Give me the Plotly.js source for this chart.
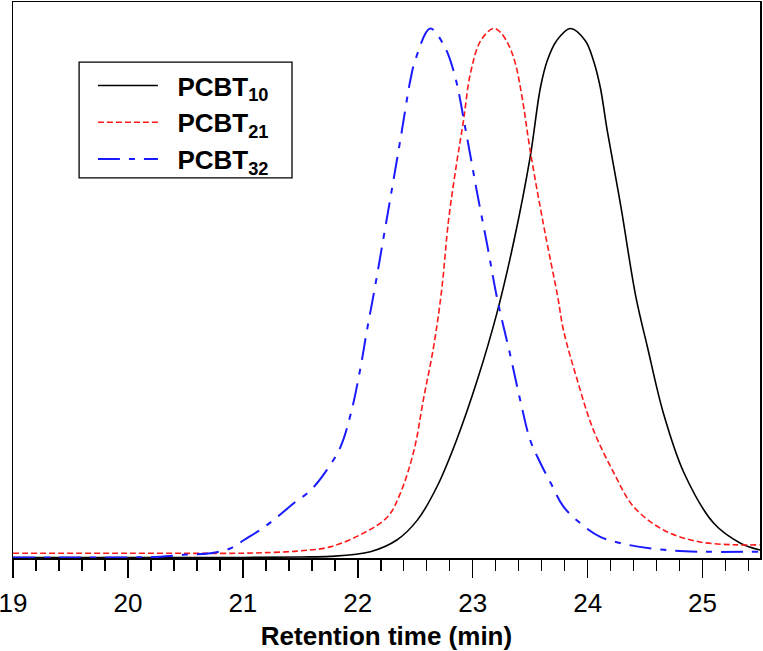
<!DOCTYPE html>
<html>
<head>
<meta charset="utf-8">
<script src="https://cdn.plot.ly/plotly-3.0.1.min.js"></script>
<style>html,body{margin:0;padding:0;background:#fff;}#chart{width:763px;height:651px;}</style>
</head>
<body>
<div id="chart"></div>
<script>
// Retention time (min) and normalized detector response
const seriesNames = ["\u00a0\u00a0<b>PCBT<sub>10</sub></b>", "\u00a0\u00a0<b>PCBT<sub>21</sub></b>", "\u00a0\u00a0<b>PCBT<sub>32</sub></b>"];

const x10 = [19, 20, 21, 21.5, 21.76, 22.11, 22.34, 22.52, 22.69, 22.86, 23.04, 23.21, 23.36, 23.50, 23.59, 23.65, 23.73, 23.85, 23.98, 24.05, 24.11, 24.17, 24.29, 24.42, 24.52, 24.66, 24.84, 25.10, 25.33, 25.5];
const y10 = [0.001, 0.001, 0.001, 0.002, 0.003, 0.012, 0.034, 0.072, 0.135, 0.223, 0.336, 0.462, 0.600, 0.757, 0.889, 0.940, 0.977, 1.0, 0.977, 0.940, 0.889, 0.808, 0.663, 0.493, 0.399, 0.273, 0.160, 0.065, 0.028, 0.015];

const x21 = [19, 20, 21, 21.18, 21.47, 21.76, 22.05, 22.26, 22.37, 22.49, 22.57, 22.66, 22.73, 22.79, 22.86, 22.92, 22.98, 23.07, 23.18, 23.24, 23.31, 23.37, 23.43, 23.50, 23.62, 23.74, 23.79, 23.91, 24.05, 24.23, 24.40, 24.66, 24.96, 25.27, 25.5];
const y21 = [0.009, 0.009, 0.009, 0.010, 0.013, 0.021, 0.047, 0.078, 0.122, 0.204, 0.298, 0.399, 0.506, 0.638, 0.745, 0.826, 0.915, 0.977, 1.0, 0.993, 0.970, 0.935, 0.870, 0.770, 0.625, 0.493, 0.430, 0.336, 0.242, 0.160, 0.097, 0.053, 0.031, 0.025, 0.025];

const x32 = [19, 19.5, 20, 20.28, 20.48, 20.72, 20.89, 21.01, 21.15, 21.27, 21.44, 21.59, 21.73, 21.85, 21.94, 22.02, 22.08, 22.15, 22.21, 22.28, 22.37, 22.46, 22.50, 22.63, 22.75, 22.84, 22.95, 23.04, 23.13, 23.21, 23.33, 23.42, 23.50, 23.59, 23.68, 23.79, 23.94, 24.11, 24.35, 24.64, 24.96, 25.5];
const y32 = [0.001, 0.001, 0.001, 0.0025, 0.006, 0.009, 0.018, 0.034, 0.053, 0.072, 0.103, 0.128, 0.166, 0.210, 0.273, 0.355, 0.430, 0.512, 0.587, 0.675, 0.789, 0.905, 0.940, 1.0, 0.968, 0.915, 0.795, 0.688, 0.587, 0.493, 0.380, 0.292, 0.223, 0.179, 0.141, 0.097, 0.065, 0.040, 0.025, 0.016, 0.012, 0.012];

const xTickVals = [19, 20, 21, 22, 23, 24, 25];
const xTickText = ["19", "20", "21", "22", "23", "24", "25"];

const font = "Liberation Sans, Arial, Helvetica, sans-serif";

const traces = [
  {x: x10, y: y10, name: seriesNames[0], mode: "lines",
   line: {color: "#000000", width: 1.6, shape: "spline", smoothing: 1}},
  {x: x21, y: y21, name: seriesNames[1], mode: "lines",
   line: {color: "#ff1a1a", width: 1.6, dash: "6px,3px", shape: "spline", smoothing: 1}},
  {x: x32, y: y32, name: seriesNames[2], mode: "lines",
   line: {color: "#1a1aff", width: 2, dash: "22px,9px,6px,9px", shape: "spline", smoothing: 1}}
];

const layout = {
  width: 763, height: 651,
  margin: {l: 13, r: 3, t: 2, b: 93},
  paper_bgcolor: "#ffffff", plot_bgcolor: "#ffffff",
  font: {family: font, color: "#000"},
  showlegend: true,
  legend: {
    x: 0.107, y: 0.892, xanchor: "left", yanchor: "top",
    bgcolor: "rgba(0,0,0,0)", borderwidth: 0,
    font: {family: font, size: 26, color: "#000"},
    itemwidth: 60, tracegroupgap: 0
  },
  shapes: [
    {type: "rect", xref: "paper", yref: "paper", x0: 0.0885, x1: 0.3735, y0: 0.6835, y1: 0.892,
     line: {color: "#000", width: 1.3}, fillcolor: "#ffffff", layer: "above"}
  ],
  xaxis: {
    range: [19, 25.5], autorange: false,
    tickmode: "array", tickvals: xTickVals, ticktext: xTickText,
    ticks: "outside", ticklen: 18, tickwidth: 1.5, tickcolor: "#000",
    minor: {dtick: 0.2, tick0: 19, ticks: "outside", ticklen: 11, tickwidth: 1.5, tickcolor: "#000", showgrid: false},
    showline: true, linecolor: "#000", linewidth: 1.5, mirror: true,
    showgrid: false, zeroline: false,
    ticklabeloverflow: "allow", ticklabelstandoff: 3,
    tickfont: {family: font, size: 26, color: "#000"},
    title: {text: "<b>Retention time (min)</b>", font: {family: font, size: 26, color: "#000"}, standoff: 10}
  },
  yaxis: {
    range: [0, 1.05], autorange: false,
    showticklabels: false, ticks: "",
    showline: true, linecolor: "#000", linewidth: 1.5, mirror: true,
    showgrid: false, zeroline: false
  }
};

Plotly.newPlot("chart", traces, layout, {displayModeBar: false, staticPlot: true});
</script>
</body>
</html>
